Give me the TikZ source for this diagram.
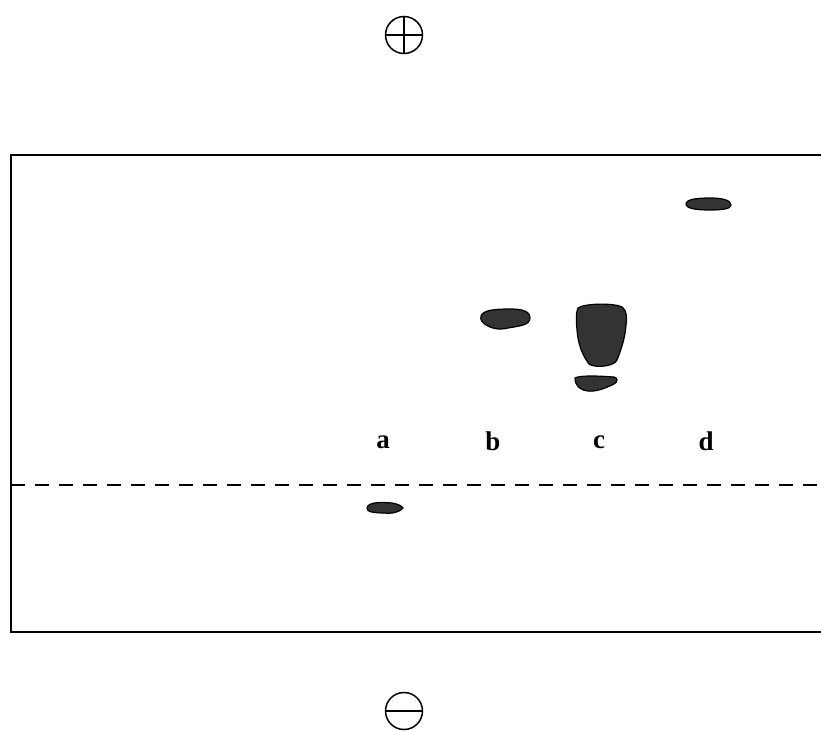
\documentclass[tikz,border=0pt]{standalone}
\usepackage{fontspec}
\setmainfont{Liberation Serif}
\usetikzlibrary{shapes.geometric}
\begin{document}
\begin{tikzpicture}[x=1pt,y=-1pt,
  band/.style={fill=black!80, draw=black, line width=1.2pt},
  lbl/.style={font=\fontsize{27}{27}\selectfont\bfseries},
  pole/.style={circle, draw, line width=1.5pt, minimum size=37pt, inner sep=0pt}]
\useasboundingbox (0,0) rectangle (821,731);
% frame
\coordinate (tr) at (821,155);
\coordinate (tl) at (11,155);
\coordinate (bl) at (11,632);
\coordinate (br) at (821,632);
\draw[line width=1.5pt] (tr) -- (tl) -- (bl) -- (br);
\coordinate (dl) at (11,485);
\coordinate (dr) at (821,485);
\draw[line width=1.1pt, dash pattern=on 14pt off 10pt] (dl) -- (dr);
% poles
\node[pole] (plus) at (404,35) {};
\draw[line width=1.5pt] (plus.west) -- (plus.east) (plus.north) -- (plus.south);
\node[pole] (minus) at (404,711) {};
\draw[line width=1.5pt] (minus.west) -- (minus.east);
% labels
\node[lbl] (la) at (383,442) {a};
\node[lbl] (lb) at (493,441) {b};
\node[lbl] (lc) at (599,442) {c};
\node[lbl] (ld) at (706,441) {d};
% bands
\path[band] (367,508) .. controls (368,502) and (380,502) .. (392,503) .. controls (398,504) and (402,506) .. (403,508) .. controls (400,512) and (392,514) .. (384,513) .. controls (375,513) and (366,512) .. (367,508) -- cycle;
\path[band] (481,316) .. controls (483,310) and (495,309) .. (510,309) .. controls (522,309) and (530,311) .. (530,318) .. controls (530,325) and (520,326) .. (508,328) .. controls (500,330) and (492,329) .. (486,325) .. controls (482,322) and (480,320) .. (481,316) -- cycle;
\path[band] (578,308) .. controls (585,303) and (615,303) .. (622,307) .. controls (627,310) and (627,318) .. (626,325) .. controls (625,340) and (620,352) .. (617,360) .. controls (614,367) and (594,368) .. (589,364) .. controls (583,356) and (578,345) .. (577,330) .. controls (576,320) and (576,312) .. (578,308) -- cycle;
\path[band] (575,378) .. controls (580,375) and (600,376) .. (614,377) .. controls (618,378) and (618,382) .. (614,384) .. controls (606,388) and (596,392) .. (588,391) .. controls (580,390) and (575,386) .. (575,378) -- cycle;
\path[band] (686,204) .. controls (686,199) and (698,198) .. (710,198) .. controls (722,198) and (731,200) .. (731,205) .. controls (731,209) and (722,210) .. (710,210) .. controls (698,210) and (686,209) .. (686,204) -- cycle;
\end{tikzpicture}
\end{document}
